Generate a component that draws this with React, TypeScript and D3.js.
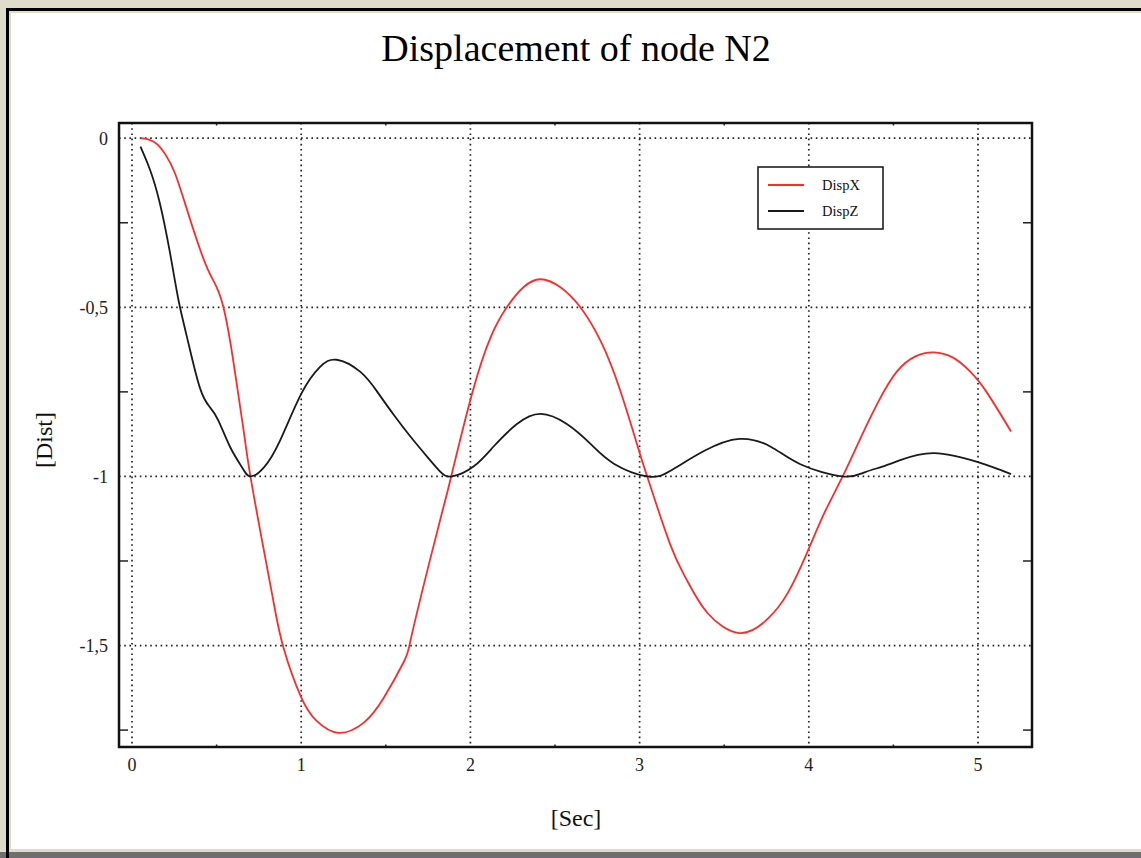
import React from "react";
import * as d3 from "d3";

const W = 1141;
const H = 858;

const title = "Displacement of node N2";
const xLabel = "[Sec]";
const yLabel = "[Dist]";

const xTicks = [0, 1, 2, 3, 4, 5];
const xMinorTicks = [0.5, 1.5, 2.5, 3.5, 4.5];
const yTicks = [0, -0.5, -1, -1.5];
const yMinorTicks = [-0.25, -0.75, -1.25, -1.75];

// DispX (red)
const dispXTime = [0.05, 0.1, 0.15, 0.2, 0.255, 0.32, 0.39, 0.45, 0.5, 0.54, 0.58, 0.62, 0.66, 0.7, 0.78, 0.835, 0.895, 1.0, 1.09, 1.22, 1.37, 1.49, 1.61, 1.65, 1.76, 1.84, 1.885, 2.01, 2.12, 2.215, 2.315, 2.415, 2.53, 2.65, 2.77, 2.885, 3.0, 3.045, 3.18, 3.28, 3.4, 3.59, 3.755, 3.875, 3.99, 4.09, 4.2, 4.31, 4.415, 4.52, 4.63, 4.74, 4.85, 4.95, 5.05, 5.195];
const dispX = [0, -0.004, -0.018, -0.05, -0.105, -0.203, -0.311, -0.39, -0.44, -0.499, -0.6, -0.73, -0.865, -1.0, -1.22, -1.367, -1.506, -1.653, -1.722, -1.758, -1.728, -1.653, -1.545, -1.476, -1.249, -1.092, -1.003, -0.755, -0.588, -0.5, -0.44, -0.417, -0.44, -0.5, -0.6, -0.745, -0.93, -1.0, -1.2, -1.307, -1.403, -1.463, -1.422, -1.345, -1.225, -1.11, -1.0, -0.882, -0.775, -0.69, -0.645, -0.633, -0.648, -0.688, -0.75, -0.867];

// DispZ (black)
const dispZTime = [0.05, 0.107, 0.165, 0.225, 0.275, 0.325, 0.4, 0.46, 0.51, 0.58, 0.65, 0.7, 0.78, 0.875, 1.0, 1.11, 1.21, 1.35, 1.45, 1.55, 1.65, 1.75, 1.82, 1.89, 2.02, 2.14, 2.275, 2.415, 2.57, 2.71, 2.85, 3.045, 3.18, 3.38, 3.59, 3.775, 3.95, 4.2, 4.33, 4.43, 4.54, 4.74, 5.0, 5.195];
const dispZ = [-0.025, -0.094, -0.193, -0.34, -0.479, -0.588, -0.736, -0.795, -0.834, -0.913, -0.973, -1.0, -0.973, -0.894, -0.756, -0.677, -0.655, -0.691, -0.75, -0.82, -0.885, -0.945, -0.985, -1.0, -0.97, -0.91, -0.845, -0.815, -0.845, -0.904, -0.963, -1.0, -0.984, -0.925, -0.889, -0.912, -0.964, -1.0, -0.988, -0.972, -0.952, -0.931, -0.958, -0.993];

const series = [
  { name: "DispX", color: "#ff2a2a", t: dispXTime, v: dispX },
  { name: "DispZ", color: "#1a1a1a", t: dispZTime, v: dispZ },
];

const FONT = "'Liberation Serif', 'DejaVu Serif', serif";

export default function App() {
  const left = 119;
  const right = 1032;
  const top = 123;
  const bottom = 747;

  const x = d3.scaleLinear().domain([-0.0768, 5.319]).range([left, right]);
  const y = d3.scaleLinear().domain([0.045, -1.8]).range([top, bottom]);

  const line = d3
    .line<[number, number]>()
    .x((d) => x(d[0]))
    .y((d) => y(d[1]))
    .curve(d3.curveNatural);

  const fmt = (v: number) => String(v).replace(".", ",");

  const legX = 758;
  const legY = 167;

  return (
    <svg
      width={W}
      height={H}
      style={{ position: "absolute", left: 0, top: 0, display: "block" }}
    >
      <rect x={0} y={0} width={W} height={H} fill="#dedccb" />
      <rect x={0} y={852} width={W} height={6} fill="#6f6f6f" />
      <rect x={7.5} y={9.5} width={W + 10} height={H} fill="none" stroke="#000" strokeWidth={3} />
      <rect x={11} y={13} width={W} height={836} fill="#fff" />

      <text x={576} y={61} textAnchor="middle" fontFamily={FONT} fontSize={38} fill="#000">
        {title}
      </text>

      {/* grid */}
      <g stroke="#222" strokeWidth={1.7} strokeDasharray="1.6,3.6">
        {xTicks.map((t) => (
          <line key={"gx" + t} x1={x(t)} x2={x(t)} y1={top} y2={bottom} />
        ))}
        {yTicks.map((t) => (
          <line key={"gy" + t} x1={left} x2={right} y1={y(t)} y2={y(t)} />
        ))}
      </g>

      {/* minor ticks */}
      <g stroke="#222" strokeWidth={1.5}>
        {yMinorTicks.map((t) => (
          <g key={"my" + t}>
            <line x1={left} x2={left + 9} y1={y(t)} y2={y(t)} />
            <line x1={right - 9} x2={right} y1={y(t)} y2={y(t)} />
          </g>
        ))}
        {xMinorTicks.map((t) => (
          <g key={"mx" + t}>
            <line x1={x(t)} x2={x(t)} y1={top} y2={top + 2.5} />
            <line x1={x(t)} x2={x(t)} y1={bottom - 2.5} y2={bottom} />
          </g>
        ))}
      </g>

      {/* curves */}
      {series.map((s) => (
        <path
          key={s.name}
          d={line(s.t.map((t, i) => [t, s.v[i]] as [number, number])) || ""}
          fill="none"
          stroke={s.color}
          strokeWidth={1.8}
        />
      ))}

      {/* frame */}
      <rect x={left} y={top} width={right - left} height={bottom - top} fill="none" stroke="#111" strokeWidth={2.5} />

      {/* tick labels */}
      <g fontFamily={FONT} fontSize={18} fill="#222">
        {xTicks.map((t) => (
          <text key={"tx" + t} x={x(t)} y={771} textAnchor="middle">
            {fmt(t)}
          </text>
        ))}
        {yTicks.map((t) => (
          <text key={"ty" + t} x={108} y={y(t)} dy="0.35em" textAnchor="end">
            {fmt(t)}
          </text>
        ))}
      </g>

      <text x={576} y={826} textAnchor="middle" fontFamily={FONT} fontSize={24} fill="#111">
        {xLabel}
      </text>
      <text
        transform={`translate(52,${(top + bottom) / 2 + 5}) rotate(-90)`}
        textAnchor="middle"
        fontFamily={FONT}
        fontSize={24}
        fill="#111"
      >
        {yLabel}
      </text>

      {/* legend */}
      <rect x={legX} y={legY} width={125} height={62} fill="#fff" stroke="#111" strokeWidth={1.5} />
      {series.map((s, i) => (
        <g key={"leg" + s.name}>
          <line x1={legX + 10} x2={legX + 46} y1={legY + 18 + i * 26} y2={legY + 18 + i * 26} stroke={s.color} strokeWidth={1.8} />
          <text x={legX + 64} y={legY + 18 + i * 26} dy="0.33em" fontFamily={FONT} fontSize={14.5} fill="#111">
            {s.name}
          </text>
        </g>
      ))}
    </svg>
  );
}
